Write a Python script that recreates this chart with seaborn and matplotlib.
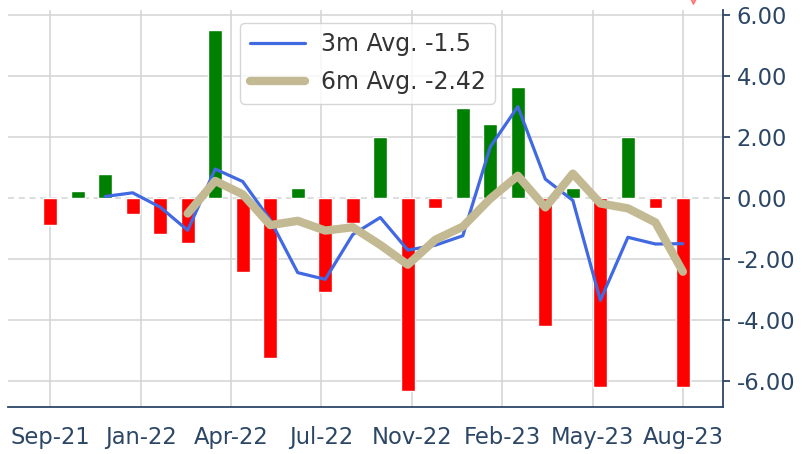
# monthly change bars with 3m / 6m rolling averages
import numpy as np
import pandas as pd
import matplotlib
matplotlib.use("Agg")
import matplotlib.pyplot as plt
import seaborn as sns

# ---------------------------
# DATA
# ---------------------------

months = ["Sep-21", "Oct-21", "Nov-21", "Dec-21", "Jan-22", "Feb-22",
          "Mar-22", "Apr-22", "May-22", "Jun-22", "Jul-22", "Aug-22",
          "Sep-22", "Oct-22", "Nov-22", "Dec-22", "Jan-23", "Feb-23",
          "Mar-23", "Apr-23", "May-23", "Jun-23", "Jul-23", "Aug-23"]

changes = [-0.88, 0.22, 0.80, -0.52, -1.19, -1.48,
           5.52, -2.42, -5.25, 0.33, -3.10, -0.82,
           2.01, -6.32, -0.33, 2.94, 2.42, 3.63,
           -4.20, 0.33, -6.21, 2.01, -0.33, -6.21]

avg_3m = [np.nan, np.nan, 0.05, 0.17, -0.30, -1.06,
          0.95, 0.54, -0.72, -2.45, -2.67, -1.20,
          -0.64, -1.71, -1.55, -1.24, 1.68, 3.00,
          0.62, -0.08, -3.36, -1.29, -1.51, -1.50]

avg_6m = [np.nan, np.nan, np.nan, np.nan, np.nan, -0.51,
          0.56, 0.12, -0.89, -0.75, -1.07, -0.96,
          -1.54, -2.19, -1.37, -0.94, -0.02, 0.73,
          -0.31, 0.80, -0.18, -0.34, -0.80, -2.42]

tick_labels = ["Sep-21", "Jan-22", "Apr-22", "Jul-22",
               "Nov-22", "Feb-23", "May-23", "Aug-23"]

label_3m = "3m Avg. -1.5"
label_6m = "6m Avg. -2.42"

df = pd.DataFrame({"month": months, "change": changes,
                   "avg3": avg_3m, "avg6": avg_6m})
df["pos"] = np.arange(len(df))
df["sign"] = np.where(df["change"] >= 0, "up", "down")

# ---------------------------
# PLOT
# ---------------------------

sns.set_style("whitegrid")
axis_color = "#2c4766"

fig = plt.figure(figsize=(8.04, 4.54), dpi=100)
ax = fig.add_axes([0.01, 0.1035, 0.889, 0.8745])

sns.barplot(data=df, x="pos", y="change", hue="sign",
            palette={"up": "green", "down": "red"}, saturation=1,
            native_scale=True, dodge=False, width=0.5,
            legend=False, ax=ax, zorder=2)

sns.lineplot(data=df, x="pos", y="avg3", color="#4169e1",
             linewidth=2.3, label=label_3m, ax=ax, zorder=3)
sns.lineplot(data=df, x="pos", y="avg6", color="#c3b992",
             linewidth=6, label=label_6m, ax=ax, zorder=4)

# red marker clipped at the top
ax.plot([23.35], [6.62], marker="v", markersize=11, color="red",
        alpha=0.4, clip_on=False, linestyle="none")

# axes
ax.set_xlim(-1.53, 24.45)
ax.set_ylim(-6.86, 6.17)
ax.set_xticks(np.linspace(0, len(months) - 1, len(tick_labels)))
ax.set_xticklabels(tick_labels)
ax.set_yticks([-6, -4, -2, 0, 2, 4, 6])
ax.yaxis.set_major_formatter(matplotlib.ticker.FormatStrFormatter("%.2f"))
ax.yaxis.tick_right()
ax.set_xlabel("")
ax.set_ylabel("")

ax.tick_params(axis="y", colors=axis_color, labelsize=16.3,
               length=5, width=1.3, pad=5, right=True, left=False)
ax.tick_params(axis="x", colors=axis_color, labelsize=16.3,
               length=0, pad=14)

ax.grid(True, color="#d3d3d3", linewidth=1.1, zorder=0)
for val, gl in zip(ax.get_yticks(), ax.get_ygridlines()):
    if val == 0:
        gl.set_linestyle((0, (4, 3)))

for side in ["left", "top"]:
    ax.spines[side].set_visible(False)
for side in ["right", "bottom"]:
    ax.spines[side].set_color(axis_color)
    ax.spines[side].set_linewidth(1.3)

leg = ax.legend(loc="upper center", bbox_to_anchor=(0.503, 0.998),
                fontsize=17, frameon=True, framealpha=0.8,
                handlelength=2.33, handletextpad=0.68,
                borderpad=0.4, labelspacing=0.6)
leg.get_frame().set_edgecolor("#cccccc")
for txt in leg.get_texts():
    txt.set_color("#333333")

fig.savefig("out.png", dpi=100)
